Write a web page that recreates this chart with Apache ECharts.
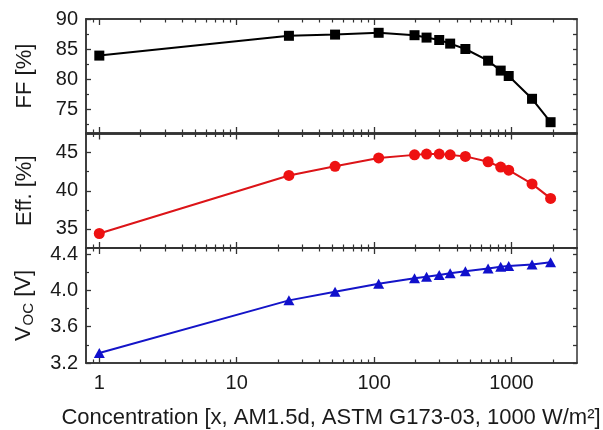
<!DOCTYPE html>
<html><head><meta charset="utf-8">
<script src="https://cdn.jsdelivr.net/npm/echarts@6/dist/echarts.min.js"></script>
<style>html,body{margin:0;padding:0;background:#fff}#c{width:603px;height:430px}</style>
</head><body><div id="c"></div>
<script>
const concentration = [1, 24, 52, 108, 197, 241, 298, 358, 462, 676, 835, 955, 1412, 1927];
const ffValues  = [83.9, 87.2, 87.4, 87.7, 87.3, 86.9, 86.5, 85.9, 85.0, 83.05, 81.4, 80.5, 76.7, 72.8];
const effValues = [34.4, 42.0, 43.2, 44.3, 44.7, 44.8, 44.8, 44.7, 44.5, 43.8, 43.1, 42.7, 40.9, 39.0];
const vocValues = [3.31, 3.89, 3.985, 4.074, 4.133, 4.15, 4.17, 4.19, 4.21, 4.24, 4.26, 4.27, 4.285, 4.31];
const xMajorTicks = [1, 10, 100, 1000];
const xMinorTicks = [0.9, 2,3,4,5,6,7,8,9, 20,30,40,50,60,70,80,90, 200,300,400,500,600,700,800,900, 2000];
const ffTicks = [75, 80, 85, 90], ffMinor = [72.5, 77.5, 82.5, 87.5];
const effTicks = [35, 40, 45], effMinor = [32.5, 37.5, 42.5, 47.5];
const vocTicks = [3.2, 3.6, 4.0, 4.4], vocMinor = [3.4, 3.8, 4.2];

const chart = echarts.init(document.getElementById('c'));
const FONT = 'Liberation Sans';
const AX = '#333';
const TXT = '#1a1a1a';
const grids = [
  {left: 86, right: 26, top: 19, height: 114},
  {left: 86, right: 26, top: 133.5, height: 114.5},
  {left: 86, right: 26, top: 248, height: 115}
];
const xAxes = [], yAxes = [];
grids.forEach((g, i) => {
  const last = i === 2;
  const base = {type: 'log', logBase: 10, min: 0.8, max: 3000, gridIndex: i, splitLine: {show: false},
    axisLine: {show: true, lineStyle: {color: AX, width: 1.5}}};
  xAxes.push(Object.assign({}, base, {position: 'bottom',
    axisTick: {show: true, inside: true, length: 6, lineStyle: {color: AX, width: 1.3}, customValues: xMajorTicks},
    axisLabel: {show: last, customValues: xMajorTicks, margin: 10, color: TXT, fontSize: 20, fontFamily: FONT,
      formatter: v => String(Math.round(v))}}));
  xAxes.push(Object.assign({}, base, {position: 'bottom',
    axisTick: {show: true, inside: true, length: 3.5, lineStyle: {color: AX, width: 1.2}, customValues: xMinorTicks},
    axisLabel: {show: false}}));
  xAxes.push(Object.assign({}, base, {position: 'top',
    axisTick: {show: true, inside: true, length: 6, lineStyle: {color: AX, width: 1.3}, customValues: xMajorTicks},
    axisLabel: {show: false}}));
  xAxes.push(Object.assign({}, base, {position: 'top',
    axisTick: {show: true, inside: true, length: 3.5, lineStyle: {color: AX, width: 1.2}, customValues: xMinorTicks},
    axisLabel: {show: false}}));
});
const ySpec = [
  {min: 71, max: 90, major: ffTicks, minor: ffMinor, name: 'FF [%]', fmt: v => String(v)},
  {min: 32.5, max: 47.5, major: effTicks, minor: effMinor, name: 'Eff. [%]', fmt: v => String(v)},
  {min: 3.2, max: 4.467, major: vocTicks, minor: vocMinor, name: '{a|V}{b|OC}{a| [V]}', fmt: v => v.toFixed(1)}
];
ySpec.forEach((s, i) => {
  const base = {type: 'value', min: s.min, max: s.max, gridIndex: i, splitLine: {show: false},
    axisLine: {show: true, lineStyle: {color: AX, width: 1.5}}};
  yAxes.push(Object.assign({}, base, {position: 'left',
    name: s.name, nameLocation: 'middle', nameRotate: 90, nameGap: 50,
    nameTextStyle: {color: TXT, fontSize: 22, fontFamily: FONT,
      rich: {a: {fontSize: 22, fontFamily: FONT, color: TXT}, b: {fontSize: 15, fontFamily: FONT, color: TXT, verticalAlign: 'bottom', padding: [9, 0, 0, 1]}}},
    axisTick: {show: true, inside: true, length: 5, lineStyle: {color: AX, width: 1.3}, customValues: s.major},
    axisLabel: {show: true, customValues: s.major, margin: 8, color: TXT, fontSize: 20, fontFamily: FONT, formatter: s.fmt}}));
  yAxes.push(Object.assign({}, base, {position: 'left',
    axisTick: {show: true, inside: true, length: 3, lineStyle: {color: AX, width: 1.2}, customValues: s.minor},
    axisLabel: {show: false}}));
  yAxes.push(Object.assign({}, base, {position: 'right',
    axisTick: {show: true, inside: true, length: 4, lineStyle: {color: AX, width: 1.3}, customValues: s.major.concat(s.minor)},
    axisLabel: {show: false}}));
});
function pairs(ys) { return concentration.map((c, k) => [c, ys[k]]); }
const tri = 'path://M0,10 L5,0 L10,10 Z';
chart.setOption({
  animation: false,
  backgroundColor: '#fff',
  grid: grids,
  xAxis: xAxes,
  yAxis: yAxes,
  series: [
    {type: 'line', xAxisIndex: 0, yAxisIndex: 0, data: pairs(ffValues), symbol: 'rect', symbolSize: 10,
      lineStyle: {color: '#000', width: 2}, itemStyle: {color: '#000'}},
    {type: 'line', xAxisIndex: 4, yAxisIndex: 3, data: pairs(effValues), symbol: 'circle', symbolSize: 11,
      lineStyle: {color: '#dc1418', width: 2}, itemStyle: {color: '#ee1111'}},
    {type: 'line', xAxisIndex: 8, yAxisIndex: 6, data: pairs(vocValues), symbol: tri, symbolSize: [11, 10],
      lineStyle: {color: '#1414c8', width: 2}, itemStyle: {color: '#1010cc'}}
  ],
  graphic: [{type: 'text', x: 331, y: 417.5, style: {text: 'Concentration [x, AM1.5d, ASTM G173-03, 1000 W/m²]',
    fill: TXT, font: '22px "Liberation Sans"', textAlign: 'center', textVerticalAlign: 'middle'}}]
});
</script></body></html>
